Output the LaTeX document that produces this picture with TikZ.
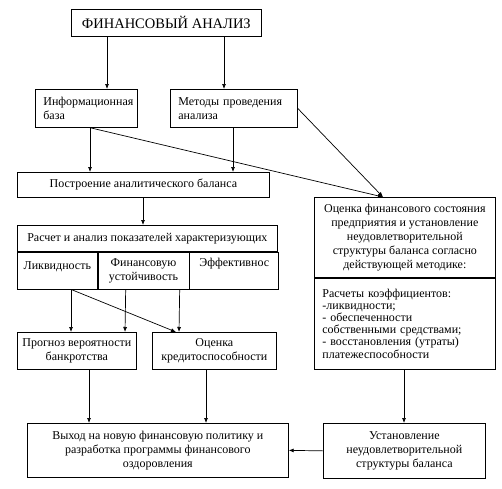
\documentclass[tikz,border=0pt]{standalone}
\usepackage{fontspec}
\setmainfont{Liberation Serif}
\usetikzlibrary{arrows.meta,positioning}

\begin{document}
\begin{tikzpicture}[
  x=1pt,y=-1pt,
  box/.style={draw,anchor=north west,align=center,inner sep=0pt,line width=0.7pt,font=\fontsize{12}{14}\selectfont},
  lbox/.style={box,align=left,inner xsep=8pt},
  txt/.style={inner sep=0pt,font=\fontsize{12}{14}\selectfont},
  arr/.style={-{Latex[length=5pt,width=4pt]},line width=0.7pt},
]
\useasboundingbox (0,0) rectangle (502,488);
\node[box,minimum width=190,minimum height=27,font=\fontsize{14.5}{17}\selectfont] (fa) at (71,9) {ФИНАНСОВЫЙ АНАЛИЗ};
\node[lbox,text width=86,minimum height=38] (ib) at (35,89) {Информационная\\база};
\node[lbox,text width=111,minimum height=38] (mp) at (170,89) {Методы проведения\\анализа};
\node[box,minimum width=252,minimum height=25] (pab) at (17,172) {Построение аналитического баланса};
\node[box,minimum width=260,minimum height=26] (rah) at (17,225) {Расчет и анализ показателей характеризующих};
\node[box,minimum width=80,minimum height=37] (liq) at (rah.south west) {};
\node[box,minimum width=91,minimum height=37] (fin) at (liq.north east) {Финансовую\\устойчивость};
\node[box,minimum width=89,minimum height=37] (eff) at (fin.north east) {};
\node[txt] (liqt) at ([yshift=-15pt]liq.north) {Ликвидность};
\node[txt] (efft) at ([yshift=-12pt]eff.north) {Эффективнос};
\node[box,minimum width=181,minimum height=80] (ofs) at (314,197) {Оценка финансового состояния\\предприятия и установление\\неудовлетворительной\\структуры баланса согласно\\действующей методике:};
\node[lbox,text width=165,minimum height=91,font=\fontsize{12}{12.2}\selectfont] (rk) at (ofs.south west) {Расчеты коэффициентов:\\-ликвидности;\\- обеспеченности\\собственными средствами;\\- восстановления (утраты)\\платежеспособности};
\node[box,minimum width=119,minimum height=37] (pvb) at (17,332) {Прогноз вероятности\\банкротства};
\node[box,minimum width=124,minimum height=37] (ok) at (152,332) {Оценка\\кредитоспособности};
\node[box,minimum width=261,minimum height=54] (vyh) at (27,423) {Выход на новую финансовую политику и\\разработка программы финансового\\оздоровления};
\node[box,minimum width=162,minimum height=55] (unsb) at (323,423) {Установление\\неудовлетворительной\\структуры баланса};
\draw[arr] ([xshift=36pt]fa.south west) -- ([xshift=72pt]ib.north west);
\draw[arr] ([xshift=153pt]fa.south west) -- ([xshift=54pt]mp.north west);
\draw[arr] ([xshift=55pt]ib.south west) -- ([xshift=73pt]pab.north west);
\draw[arr] ([xshift=63pt]mp.south west) -- ([xshift=216pt]pab.north west);
\draw[arr] ([xshift=55pt]ib.south west) -- ([xshift=69pt]ofs.north west);
\draw[arr] (mp.east) -- ([xshift=69pt]ofs.north west);
\draw[arr] ([xshift=126pt]pab.south west) -- ([xshift=126pt]rah.north west);
\draw[arr] ([xshift=54pt]liq.south west) -- ([xshift=54pt]pvb.north west);
\draw[arr] ([xshift=28pt]fin.south west) -- ([xshift=108pt]pvb.north west);
\draw[arr] ([xshift=82pt]fin.south west) -- ([xshift=27pt]ok.north west);
\draw[arr] ([xshift=54pt]liq.south west) -- ([xshift=24pt]ok.north west);
\draw[arr] ([xshift=72pt]pvb.south west) -- ([xshift=62pt]vyh.north west);
\draw[arr] ([xshift=54pt]ok.south west) -- ([xshift=179pt]vyh.north west);
\draw[arr] ([xshift=90pt]rk.south west) -- ([xshift=81pt]unsb.north west);
\draw[arr] (unsb.west) -- (vyh.east);
\end{tikzpicture}
\end{document}
